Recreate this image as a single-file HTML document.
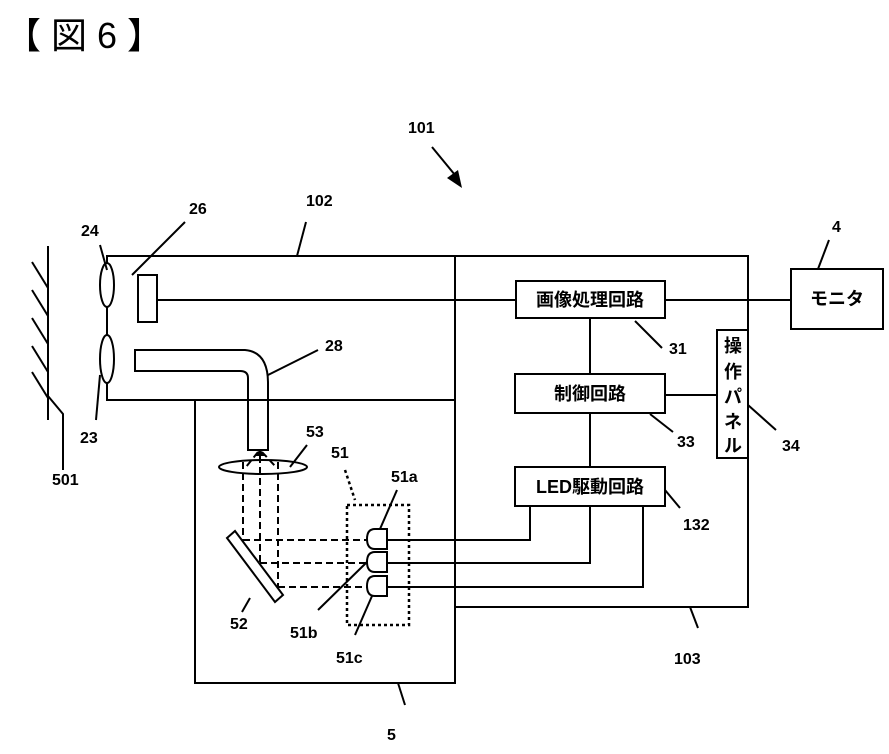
<!DOCTYPE html>
<html><head><meta charset="utf-8"><style>
html,body{margin:0;padding:0;background:#fff;}
svg{display:block;}
text{font-family:"Liberation Sans","Noto Sans CJK JP",sans-serif;font-weight:bold;fill:#000;}
</style></head><body>
<svg width="889" height="754" viewBox="0 0 889 754" xmlns="http://www.w3.org/2000/svg">
<text x="5" y="48" font-size="36" style="font-weight:normal">【 図 6 】</text>
<g stroke="#000" stroke-width="2" fill="none">
<line x1="48" y1="246" x2="48" y2="420"/>
<line x1="32" y1="262" x2="48" y2="288"/>
<line x1="32" y1="290" x2="48" y2="316"/>
<line x1="32" y1="318" x2="48" y2="344"/>
<line x1="32" y1="346" x2="48" y2="372"/>
<line x1="32" y1="372" x2="48" y2="398"/>
<polyline points="48,396 63,414 63,470"/>
<rect x="107" y="256" width="348" height="144"/>
<polyline points="455,256 748,256 748,607 455,607"/>
<polyline points="195,400 195,683 455,683 455,256"/>
<ellipse cx="107" cy="285" rx="7" ry="22" fill="#fff"/>
<ellipse cx="107" cy="359" rx="7" ry="24" fill="#fff"/>
<rect x="138" y="275" width="19" height="47"/>
<line x1="157" y1="300" x2="516" y2="300"/>
<line x1="665" y1="300" x2="791" y2="300"/>
<path d="M135,350 L245,350 Q268,352 268,383 L268,450 L248,450 L248,378 Q248,371 240,371 L135,371 Z" fill="#fff"/>
<line x1="195" y1="400" x2="455" y2="400"/>
<path d="M248,400 L248,450 L268,450 L268,400" />
<rect x="516" y="281" width="149" height="37"/>
<rect x="515" y="374" width="150" height="39"/>
<rect x="515" y="467" width="150" height="39"/>
<rect x="717" y="330" width="31" height="128" fill="#fff"/>
<rect x="791" y="269" width="92" height="60"/>
<line x1="590" y1="318" x2="590" y2="374"/>
<line x1="590" y1="413" x2="590" y2="467"/>
<line x1="665" y1="395" x2="717" y2="395"/>
<polyline points="387,540 530,540 530,506"/>
<polyline points="387,563 590,563 590,506"/>
<polyline points="387,587 643,587 643,506"/>
<ellipse cx="263" cy="467" rx="44" ry="7" fill="#fff"/>
<polygon points="227,538 235,531 283,595 275,602" fill="#fff"/>
<path d="M387,529 L375,529 Q367,529 367,539 Q367,549 375,549 L387,549 Z" fill="#fff"/>
<path d="M387,552 L375,552 Q367,552 367,562 Q367,572 375,572 L387,572 Z" fill="#fff"/>
<path d="M387,576 L375,576 Q367,576 367,586 Q367,596 375,596 L387,596 Z" fill="#fff"/>
<line x1="132" y1="275" x2="185" y2="222"/>
<line x1="297" y1="256" x2="306" y2="222"/>
<line x1="268" y1="375" x2="318" y2="350"/>
<line x1="107" y1="270" x2="100" y2="245"/>
<line x1="100" y1="375" x2="96" y2="420"/>
<line x1="290" y1="467" x2="307" y2="445"/>
<line x1="380" y1="529" x2="397" y2="490"/>
<line x1="367" y1="562" x2="318" y2="610"/>
<line x1="372" y1="596" x2="355" y2="635"/>
<line x1="250" y1="598" x2="242" y2="612"/>
<line x1="635" y1="321" x2="662" y2="348"/>
<line x1="650" y1="414" x2="673" y2="432"/>
<line x1="665" y1="490" x2="680" y2="508"/>
<line x1="748" y1="405" x2="776" y2="430"/>
<line x1="818" y1="269" x2="829" y2="240"/>
<line x1="690" y1="607" x2="698" y2="628"/>
<line x1="398" y1="683" x2="405" y2="705"/>
<line x1="432" y1="147" x2="455" y2="175"/>
</g>
<polygon points="462,188 447,178 458,170" fill="#000"/>
<g stroke="#000" stroke-width="2" fill="none" stroke-dasharray="7,4">
<line x1="243" y1="462" x2="243" y2="540"/>
<line x1="260" y1="456" x2="260" y2="563"/>
<line x1="278" y1="462" x2="278" y2="587"/>
<line x1="243" y1="540" x2="367" y2="540"/>
<line x1="260" y1="563" x2="367" y2="563"/>
<line x1="278" y1="587" x2="367" y2="587"/>
<line x1="258" y1="452" x2="246" y2="467"/>
<line x1="262" y1="452" x2="276" y2="467"/>
</g>
<g stroke="#000" stroke-width="2.5" fill="none" stroke-dasharray="3,3">
<rect x="347" y="505" width="62" height="120"/>
<line x1="345" y1="470" x2="355" y2="500"/>
</g>
<polygon points="260,449 255,456 265,456" fill="#000"/>
<g font-size="16">
<text x="408" y="133">101</text>
<text x="306" y="206">102</text>
<text x="189" y="214">26</text>
<text x="81" y="236">24</text>
<text x="325" y="351">28</text>
<text x="80" y="443">23</text>
<text x="52" y="485">501</text>
<text x="306" y="437">53</text>
<text x="331" y="458">51</text>
<text x="391" y="482">51a</text>
<text x="230" y="629">52</text>
<text x="290" y="638">51b</text>
<text x="336" y="663">51c</text>
<text x="387" y="740">5</text>
<text x="674" y="664">103</text>
<text x="669" y="354">31</text>
<text x="677" y="447">33</text>
<text x="683" y="530">132</text>
<text x="782" y="451">34</text>
<text x="832" y="232">4</text>
</g>
<g font-size="18">
<text x="590" y="306" text-anchor="middle">画像処理回路</text>
<text x="590" y="400" text-anchor="middle">制御回路</text>
<text x="590" y="493" text-anchor="middle">LED駆動回路</text>
<text x="837" y="305" text-anchor="middle">モニタ</text>
<text x="733" y="352" text-anchor="middle">操</text>
<text x="733" y="378" text-anchor="middle">作</text>
<text x="733" y="403" text-anchor="middle">パ</text>
<text x="733" y="428" text-anchor="middle">ネ</text>
<text x="733" y="452" text-anchor="middle">ル</text>
</g>
</svg>
</body></html>
